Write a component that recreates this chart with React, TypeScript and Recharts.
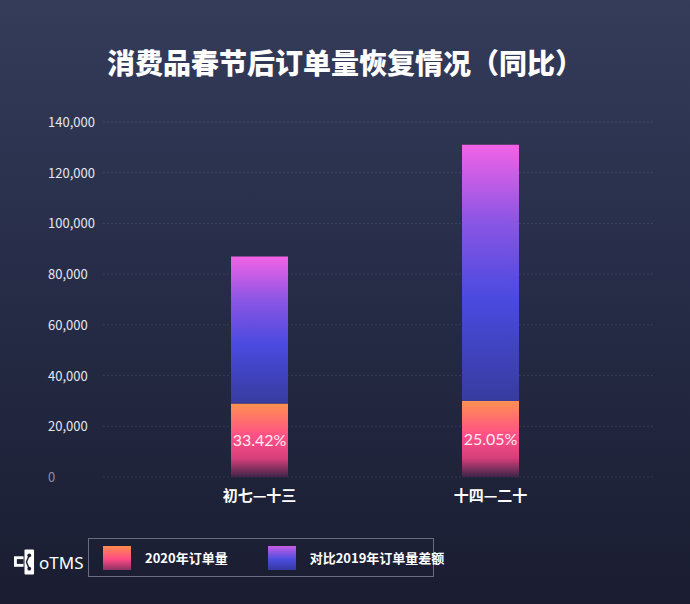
import React from "react";
import {
  BarChart, Bar, XAxis, YAxis, CartesianGrid, Legend, LabelList,
} from "recharts";

const periods = ["初七—十三", "十四—二十"];
const orders2020 = [29000, 30000];
const gapVs2019 = [58000, 101000];
const shareLabels = ["33.42%", "25.05%"];
const yTicks = [0, 20000, 40000, 60000, 80000, 100000, 120000, 140000];

const chartData = periods.map((p, i) => ({
  period: p,
  y2020: orders2020[i],
  gap: gapVs2019[i],
  share: shareLabels[i],
}));

const FONT = "'Noto Sans CJK SC', 'Noto Sans', sans-serif";

const YTick = (props: any) => {
  const { x, y, payload } = props;
  const v = payload.value as number;
  return (
    <text
      x={x - 47}
      y={y}
      dy={5}
      textAnchor="start"
      fill={v === 0 ? "#8d92a6" : "#e4e7f0"}
      fontSize={13}
      fontFamily={FONT}
    >
      {v.toLocaleString("en-US")}
    </text>
  );
};

const XTick = (props: any) => {
  const { x, y, payload } = props;
  return (
    <text
      x={x}
      y={y}
      dy={16}
      textAnchor="middle"
      fill="#ffffff"
      fontSize={15}
      fontWeight={700}
      fontFamily={FONT}
    >
      {payload.value}
    </text>
  );
};

const ShareLabel = (props: any) => {
  const { x, y, width, height, value } = props;
  return (
    <text
      x={x + width / 2}
      y={y + height / 2}
      dy={6}
      textAnchor="middle"
      fill="#ffeef0"
      fontSize={16}
      fontFamily="Lato, 'Noto Sans', sans-serif"
    >
      {value}
    </text>
  );
};

const LegendBox = (props: any) => {
  const items = props.payload || [];
  const swatch: Record<string, string> = {
    y2020: "linear-gradient(#ff8c4e, #ff4b86 55%, #8c3163)",
    gap: "linear-gradient(#c65ee6, #4d4de0 55%, #3537a0)",
  };
  return (
    <div
      style={{
        display: "flex",
        alignItems: "center",
        width: 346,
        height: 39,
        border: "1px solid #676c80",
        boxSizing: "border-box",
        paddingLeft: 14,
        fontFamily: FONT,
        fontSize: 13,
        fontWeight: 700,
        color: "#ffffff",
        whiteSpace: "nowrap",
      }}
    >
      {items.map((it: any, i: number) => (
        <div key={i} style={{ display: "flex", alignItems: "center", marginRight: i === 0 ? 40 : 0 }}>
          <div style={{ width: 28, height: 24, background: swatch[it.dataKey], marginRight: 14 }} />
          <span>{it.value}</span>
        </div>
      ))}
    </div>
  );
};

export default function App() {
  return (
    <div
      style={{
        position: "absolute",
        left: 0,
        top: 0,
        width: 690,
        height: 604,
        overflow: "hidden",
        background: "linear-gradient(#343c5a, #272d48 45%, #1a1d31)",
      }}
    >
      <div
        style={{
          position: "absolute",
          left: 0,
          width: 690,
          top: 40,
          textAlign: "center",
          color: "#ffffff",
          fontFamily: FONT,
          fontWeight: 900,
          fontSize: 28,
          lineHeight: "44px",
        }}
      >
        消费品春节后订单量恢复情况（同比）
      </div>

      <div style={{ position: "absolute", left: 14, top: 549, display: "flex", alignItems: "center" }}>
        <svg width={21} height={26} viewBox="0 0 22 26">
          <rect x={0} y={7} width={10} height={11} fill="#fff" />
          <rect x={3} y={10} width={7} height={5} fill="#1b1f33" />
          <rect x={11} y={0} width={10} height={26} rx={1} fill="#fff" />
          <circle cx={16} cy={6} r={2} fill="#1b1f33" />
          <circle cx={16} cy={20} r={2} fill="#1b1f33" />
          <line x1={16} y1={6} x2={13} y2={13} stroke="#1b1f33" strokeWidth={1.5} />
          <line x1={16} y1={20} x2={13} y2={13} stroke="#1b1f33" strokeWidth={1.5} />
        </svg>
        <span style={{ marginLeft: 4, color: "#fff", fontFamily: "'Noto Sans', sans-serif", fontSize: 17 }}>oTMS</span>
      </div>

      <BarChart
        width={690}
        height={604}
        data={chartData}
        margin={{ top: 122, right: 35, bottom: 58, left: 48 }}
        style={{ position: "absolute", left: 0, top: 0 }}
      >
        <defs>
          <linearGradient id="g2020" x1="0" y1="0" x2="0" y2="1">
            <stop offset="0%" stopColor="#ff9150" />
            <stop offset="45%" stopColor="#ff4f88" />
            <stop offset="75%" stopColor="#d63f7a" />
            <stop offset="100%" stopColor="#3e2448" />
          </linearGradient>
          <linearGradient id="gGap" x1="0" y1="0" x2="0" y2="1">
            <stop offset="0%" stopColor="#f263e6" />
            <stop offset="30%" stopColor="#8a55e4" />
            <stop offset="60%" stopColor="#4a4ae0" />
            <stop offset="100%" stopColor="#363c9e" />
          </linearGradient>
        </defs>
        <CartesianGrid vertical={false} stroke="rgba(255,255,255,0.09)" strokeDasharray="2 2" />
        <XAxis
          dataKey="period"
          height={30}
          axisLine={false}
          tickLine={false}
          padding={{ left: 41, right: 49 }}
          tick={<XTick />}
        />
        <YAxis
          width={55}
          domain={[0, 140000]}
          ticks={yTicks}
          axisLine={false}
          tickLine={false}
          tick={<YTick />}
        />
        <Legend
          verticalAlign="bottom"
          align="left"
          content={<LegendBox />}
          wrapperStyle={{ left: 88, top: 538, bottom: "auto", width: 346 }}
        />
        <Bar dataKey="y2020" name="2020年订单量" stackId="a" fill="url(#g2020)" barSize={57} isAnimationActive={false}>
          <LabelList dataKey="share" content={<ShareLabel />} />
        </Bar>
        <Bar dataKey="gap" name="对比2019年订单量差额" stackId="a" fill="url(#gGap)" barSize={57} isAnimationActive={false} />
      </BarChart>
    </div>
  );
}
